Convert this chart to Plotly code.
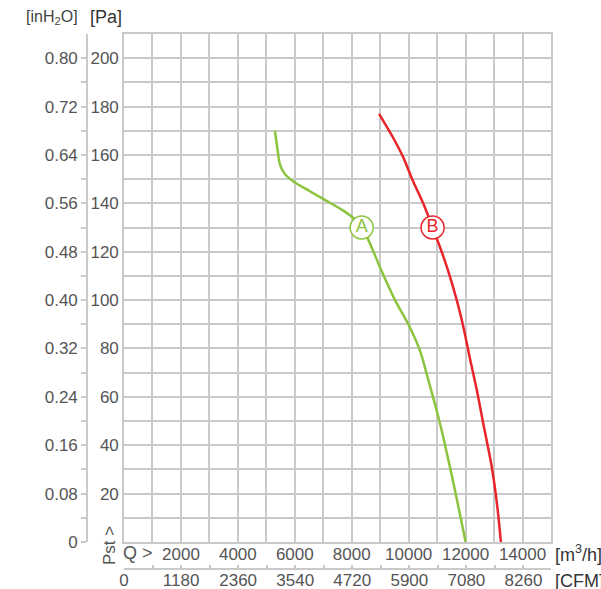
import plotly.graph_objects as go

W, H = 601, 589

# Curve A (green)
a_q = [5300, 5385, 5480, 5655, 5950, 6530, 7120, 7700, 8050, 8350, 8580, 9050, 9520, 9990, 10400, 10690, 11100, 11450, 11740, 12000]
a_p = [170, 163, 156, 152, 149, 145, 141, 137, 134, 130, 125, 112, 100, 90, 79, 67, 49, 31, 15, 0]
# Curve B (red)
b_q = [8960, 9460, 9810, 10160, 10510, 10840, 11220, 11390, 11690, 11920, 12150, 12390, 12620, 12920, 13110, 13240]
b_p = [177, 167, 159, 149, 140, 130, 118, 112, 100, 89, 76, 63, 49, 31, 15, 0]

curve_names = ["A", "B"]
label_q = [8350, 10840]
label_p = [130, 130]

q_ticks = [2000, 4000, 6000, 8000, 10000, 12000, 14000]
q_minor = [0, 1000, 3000, 5000, 7000, 9000, 11000, 13000, 15000]
cfm_ticks = [0, 1180, 2360, 3540, 4720, 5900, 7080, 8260]
pa_ticks = [20, 40, 60, 80, 100, 120, 140, 160, 180, 200]
pa_minor = [0, 10, 30, 50, 70, 90, 110, 130, 150, 170, 190, 210]
inh2o_ticks = [0, 0.08, 0.16, 0.24, 0.32, 0.40, 0.48, 0.56, 0.64, 0.72, 0.80]
inh2o_text = ["0", "0.08", "0.16", "0.24", "0.32", "0.40", "0.48", "0.56", "0.64", "0.72", "0.80"]

GREEN = "#8cc43e"
RED = "#e8252a"
GRID = "#c9c9c9"
TXT = "#555555"
FONT = "Liberation Sans"
FS = 17

x0, x1 = 124, 551
y0, y1 = 34, 542

fig = go.Figure()
fig.add_trace(go.Scatter(x=a_q, y=a_p, mode="lines", line=dict(color=GREEN, width=2.5, shape="spline", smoothing=0.8), hoverinfo="skip"))
fig.add_trace(go.Scatter(x=b_q, y=b_p, mode="lines", line=dict(color=RED, width=2.5, shape="spline", smoothing=0.8), hoverinfo="skip"))
for name, q, p, c in zip(curve_names, label_q, label_p, [GREEN, RED]):
    fig.add_trace(go.Scatter(x=[q], y=[p], mode="markers+text", text=[name], textposition="middle center",
                             marker=dict(size=23, color="white", line=dict(color=c, width=1.5)),
                             textfont=dict(color=c, size=18, family=FONT), hoverinfo="skip"))
# dummy traces to attach secondary axes
fig.add_trace(go.Scatter(x=[None], y=[None], yaxis="y2", showlegend=False, hoverinfo="skip"))
fig.add_trace(go.Scatter(x=[None], y=[None], xaxis="x2", showlegend=False, hoverinfo="skip"))

fig.update_layout(
    width=W, height=H, autosize=False,
    margin=dict(l=0, r=0, t=0, b=0, autoexpand=False),
    paper_bgcolor="white", plot_bgcolor="white",
    showlegend=False,
    font=dict(family=FONT, size=FS, color=TXT),
    xaxis=dict(domain=[x0 / W, x1 / W], range=[0, 15000], tickmode="array", tickvals=q_ticks,
               ticktext=[str(v) for v in q_ticks], automargin=False,
               showgrid=True, gridcolor=GRID, gridwidth=1.6, zeroline=False,
               minor=dict(tickvals=q_minor, showgrid=True, gridcolor=GRID, gridwidth=1.6, ticks=""),
               showline=True, linecolor=GRID, linewidth=1.6, mirror=True, ticks="",
               ticklabelstandoff=-4, tickfont=dict(size=FS, color=TXT)),
    yaxis=dict(domain=[(H - y1) / H, (H - y0) / H], range=[0, 210], tickmode="array", tickvals=pa_ticks,
               ticktext=[str(v) for v in pa_ticks], automargin=False,
               showgrid=True, gridcolor=GRID, gridwidth=1.6, zeroline=False,
               minor=dict(tickvals=pa_minor, showgrid=True, gridcolor=GRID, gridwidth=1.6, ticks=""),
               showline=True, linecolor=GRID, linewidth=1.6, mirror=True, ticks="",
               tickfont=dict(size=FS, color=TXT)),
    yaxis2=dict(overlaying="y", anchor="free", position=87 / W, side="left", range=[0, 0.84],
                tickmode="array", tickvals=inh2o_ticks, ticktext=inh2o_text, automargin=False,
                showgrid=False, zeroline=False, showline=True, linecolor=GRID, linewidth=1.6,
                ticks="outside", ticklen=5, tickcolor=GRID, tickwidth=1.6,
                minor=dict(tickvals=[v + 0.04 for v in inh2o_ticks[:-1]], ticks="outside", ticklen=5,
                           tickcolor=GRID, tickwidth=1.6, showgrid=False),
                tickfont=dict(size=FS, color=TXT)),
    xaxis2=dict(overlaying="x", anchor="free", position=(H - 569) / H, side="bottom",
                range=[0, 15000 * 0.5886], tickmode="array", tickvals=cfm_ticks,
                ticktext=[str(v) for v in cfm_ticks], automargin=False,
                showgrid=False, zeroline=False, showline=True, linecolor=GRID, linewidth=1.6,
                ticks="inside", ticklen=3, tickcolor=GRID, tickwidth=1.6,
                minor=dict(tickvals=[v + 590 for v in cfm_ticks], ticks="inside", ticklen=3,
                           tickcolor=GRID, tickwidth=1.6, showgrid=False),
                ticklabelstandoff=-4, tickfont=dict(size=FS, color=TXT)),
)

ann = [
    dict(text="[inH<sub>2</sub>O]", x=52 / W, y=(H - 17) / H, font=dict(size=16, color="#444")),
    dict(text="[Pa]", x=106 / W, y=(H - 17) / H, font=dict(size=18, color="#333")),
    dict(text="Q >", x=138 / W, y=(H - 553) / H, font=dict(size=18, color=TXT)),
    dict(text="Pst >", x=109 / W, y=(H - 546) / H, textangle=-90, font=dict(size=17, color=TXT)),
    dict(text="[m<sup>3</sup>/h]", x=553 / W, y=(H - 553) / H, xanchor="left", font=dict(size=18, color="#333")),
    dict(text="[CFM]", x=553 / W, y=(H - 581) / H, xanchor="left", font=dict(size=18, color="#333")),
]
for a in ann:
    a.setdefault("xanchor", "center")
    fig.add_annotation(xref="paper", yref="paper", showarrow=False, yanchor="middle", **a)

fig.write_html("out.html", config={"displayModeBar": False},
               post_script="document.body.style.margin='0px';")
